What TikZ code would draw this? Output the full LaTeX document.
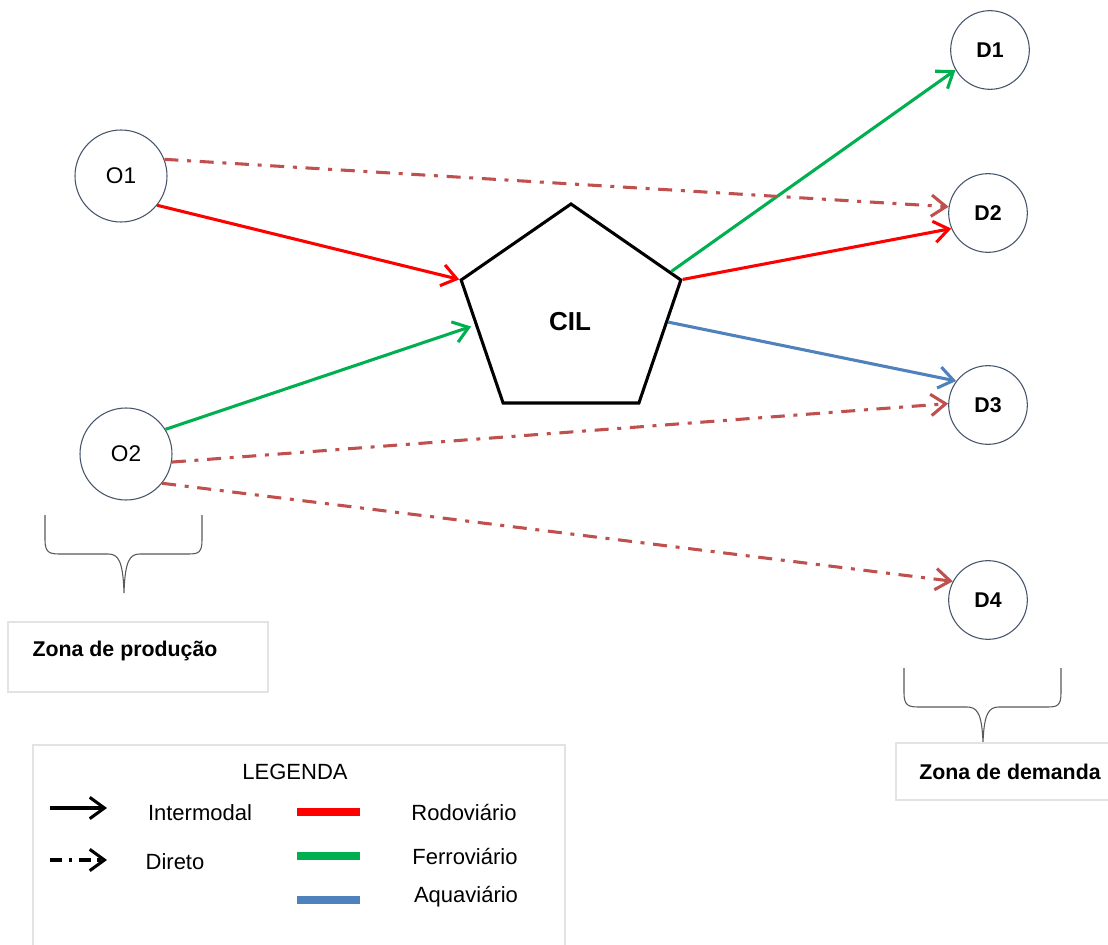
\documentclass[tikz,border=0pt]{standalone}
\usepackage{fontspec}
\setmainfont{Liberation Sans}
\usetikzlibrary{shapes.geometric,arrows.meta}

\definecolor{rodo}{HTML}{FF0000}
\definecolor{ferro}{HTML}{00B050}
\definecolor{aqua}{HTML}{4F81BD}
\definecolor{direto}{HTML}{C0504D}
\definecolor{borda}{HTML}{44546A}
\definecolor{caixa}{HTML}{E3E3E3}
\definecolor{chavecor}{HTML}{595959}

\tikzset{
  origem/.style={circle, draw=borda, line width=0.8pt, fill=white, minimum size=69pt, inner sep=0pt, font=\fontsize{17}{17}\selectfont},
  destino/.style={circle, draw=borda, line width=0.8pt, fill=white, minimum size=59pt, inner sep=0pt, font=\bfseries\fontsize{16}{16}\selectfont},
  modal/.style={line width=2.3pt, -{Straight Barb[length=11pt,width=16pt]}},
  diretolinha/.style={modal, draw=direto, dash pattern=on 10.5pt off 6.5pt on 3pt off 6.5pt},
  chave/.style={draw=chavecor, line width=0.8pt},
  moldura/.style={draw=caixa, line width=0.8pt},
  rotulo/.style={font=\bfseries\fontsize{16}{16}\selectfont},
  legtexto/.style={font=\fontsize{16.5}{16.5}\selectfont},
  barra/.style={line width=6pt}
}

\begin{document}
\begin{tikzpicture}[x=0.75pt, y=-0.75pt]
    \clip (0,0) rectangle (1108,945);
    \fill[white] (0,0) rectangle (1108,945);

    % Origins, destinations and the CIL
    \node[origem] (O1) at (121,176) {O1};
    \node[origem] (O2) at (126,454) {O2};
    \node[destino] (D1) at (990,50) {D1};
    \node[destino] (D2) at (988,213) {D2};
    \node[destino] (D3) at (988,405) {D3};
    \node[destino] (D4) at (988,600) {D4};
    \node[regular polygon, regular polygon sides=5, draw, line width=2.3pt, minimum size=165pt, inner sep=0pt, xscale=1.05, transform shape] (CIL) at (571,314) {};
    \node[font=\bfseries\fontsize{19.5}{19.5}\selectfont] (cil-rot) at (570,322) {CIL};

    % Intermodal flows
    \draw[modal, draw=rodo] (O1.-39) -- (CIL.corner 2);
    \draw[modal, draw=ferro, shorten >=3pt] (O2.32) -- (CIL.187);
    \draw[modal, draw=ferro] (CIL.24) -- (D1.210);
    \draw[modal, draw=rodo] (CIL.corner 5) -- (D2.203);
    \draw[modal, draw=aqua] (CIL.-5) -- (D3.143);

    % Direct flows
    \draw[diretolinha] (O1.21) -- (D2.171);
    \draw[diretolinha] (O2.-10) -- (D3.178);
    \draw[diretolinha] (O2.-39) -- (D4.152);

    % Braces under the zones
    \draw[chave] (45,515) -- (45,540) .. controls (45,553) and (50,554) .. (60,554) -- (108,554)
      .. controls (118,554) and (123,560) .. (124,593) .. controls (125,560) and (130,554) .. (140,554)
      -- (188,554) .. controls (198,554) and (202,553) .. (202,540) -- (202,515);
    \draw[chave] (904,668) -- (904,693) .. controls (904,706) and (909,707) .. (919,707) -- (967,707)
      .. controls (977,707) and (982,713) .. (983,743) .. controls (984,713) and (989,707) .. (999,707)
      -- (1047,707) .. controls (1057,707) and (1061,706) .. (1061,693) -- (1061,668);

    % Zone labels
    \draw[moldura] (8,622) rectangle (268,692);
    \node[rotulo] (zprod) at (125,651) {Zona de produção};
    \draw[moldura] (896,743) rectangle (1120,800);
    \node[rotulo] (zdem) at (1010,772) {Zona de demanda};

    % Legend
    \draw[moldura] (33,745) rectangle (565,960);
    \node[legtexto] (leg) at (295,772) {LEGENDA};
    \coordinate (int-a) at (50,808);
    \coordinate (int-b) at (107,808);
    \draw[modal, line width=2.3pt] (int-a) -- (int-b);
    \node[legtexto] (int) at (200,813) {Intermodal};
    \coordinate (dir-a) at (50,860);
    \coordinate (dir-b) at (107,860);
    \draw[modal, line width=2.3pt, dash pattern=on 9pt off 5pt on 2.5pt off 5pt] (dir-a) -- (dir-b);
    \node[legtexto] (dir) at (175,862) {Direto};
    \coordinate (rod-a) at (297,812);
    \coordinate (rod-b) at (360,812);
    \draw[barra, draw=rodo] (rod-a) -- (rod-b);
    \node[legtexto] (rod) at (464,813) {Rodoviário};
    \coordinate (fer-a) at (297,856);
    \coordinate (fer-b) at (360,856);
    \draw[barra, draw=ferro] (fer-a) -- (fer-b);
    \node[legtexto] (fer) at (465,857) {Ferroviário};
    \coordinate (aqu-a) at (297,900);
    \coordinate (aqu-b) at (360,900);
    \draw[barra, draw=aqua] (aqu-a) -- (aqu-b);
    \node[legtexto] (aqu) at (466,897) {Aquaviário};
\end{tikzpicture}
\end{document}
